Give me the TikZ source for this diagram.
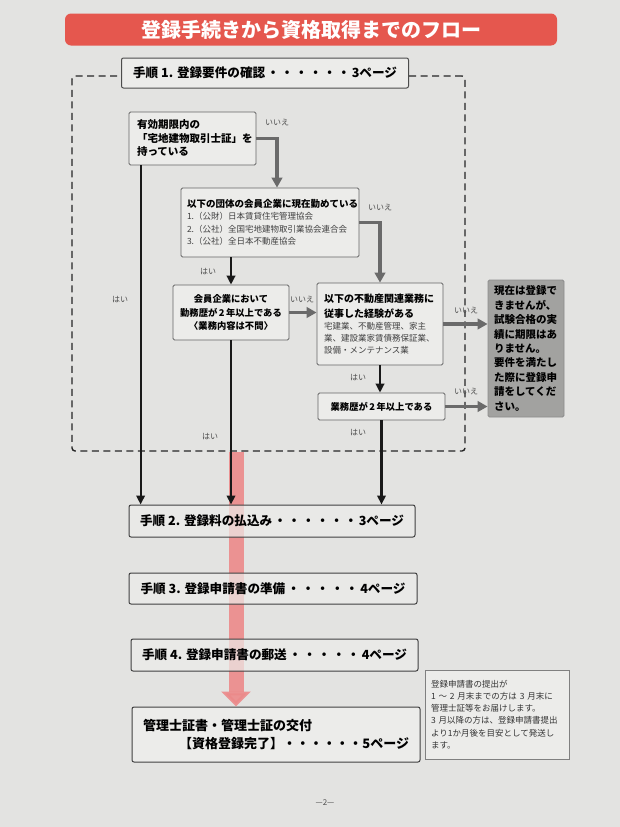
\documentclass[tikz,border=0pt]{standalone}
\usepackage{fontspec}
\setmainfont{Noto Sans CJK JP}
\usetikzlibrary{arrows.meta,calc}
\definecolor{pagebg}{HTML}{E3E3E1}
\definecolor{boxfill}{HTML}{ECECEA}
\definecolor{banner}{HTML}{E5574E}
\definecolor{pinkband}{HTML}{EC8A8A}
\definecolor{grayarrow}{HTML}{6A6A6A}
\definecolor{egray}{HTML}{A2A2A0}
\newcommand{\fs}[2]{\fontsize{#1}{#2}\selectfont}
\newcommand{\steptext}[4]{\makebox[#1pt][l]{#2\hfill #3\hfill #4}}
\newcommand{\sixdots}{・\hfill・\hfill・\hfill・\hfill・\hfill・}
\newcommand{\fivedots}{・\hfill・\hfill・\hfill・\hfill・}
\begin{document}
\begin{tikzpicture}[x=1pt,y=-1pt,
  box/.style={draw=black!60, line width=0.8pt, fill=boxfill, rounded corners=1.5pt, inner ysep=0pt},
  stepbox/.style={draw=black!75, line width=1pt, fill=boxfill, fill opacity=0.7, text opacity=1,
     rounded corners=2pt, inner xsep=0pt, inner ysep=0pt, align=left, font=\fs{12.6}{18}\bfseries},
  dashbox/.style={draw=black!85, line width=1.4pt, dash pattern=on 7pt off 4.5pt, rounded corners=3pt, inner sep=0pt},
  yes/.style={-{Triangle[length=9pt,width=8.5pt]}, line width=2.2pt, black!90},
  no/.style={-{Triangle[length=10pt,width=10.5pt]}, line width=3.4pt, grayarrow},
  pinkarrow/.style={-{Triangle[length=15pt,width=29pt]}, line width=15pt, pinkband, opacity=0.9},
  lbl/.style={font=\fs{8}{8}, text=black!70, inner sep=0pt},
]
\useasboundingbox (0,0) rectangle (620,827);
\fill[pagebg] (0,0) rectangle (620,827);

% title banner
\node[fill=banner, rounded corners=6pt, minimum width=492pt, minimum height=32pt, inner sep=0pt,
      text=white, font=\fs{20}{22}\bfseries] (title) at (311,29.5) {登録手続きから資格取得までのフロー};

% dashed requirement frame
\node[dashbox, minimum width=393pt, minimum height=375pt] (req) at (268.5,263.5) {};

% header of step 1
\node[stepbox, fill opacity=1, draw=black!70, minimum width=287pt, minimum height=30pt] (H) at (265,73)
  {\steptext{264}{手順 1. 登録要件の確認}{\sixdots}{3ページ}};

% decision boxes
\node[box, minimum width=127pt, minimum height=53pt, text width=111pt, inner xsep=8pt, align=left,
      font=\fs{10.5}{13.5}\bfseries] (A) at (192.5,138.5)
  {有効期限内の\\「宅地建物取引士証」を\\持っている};

\node[box, minimum width=178pt, minimum height=69pt, text width=166pt, inner xsep=6pt, align=left] (B) at (270,222.5)
  {{\fs{9.5}{14}\bfseries 以下の団体の会員企業に現在勤めている\par}%
   {\fs{8.5}{12.5}\color{black!75}1.（公財）日本賃貸住宅管理協会\\2.（公社）全国宅地建物取引業協会連合会\\3.（公社）全日本不動産協会\par}};

\node[box, minimum width=116pt, minimum height=55pt, text width=116pt, inner xsep=0pt, align=center,
      font=\fs{9.3}{13.5}\bfseries] (C) at (231,312.5)
  {会員企業において\\勤務歴が\,2\,年以上である\\〈業務内容は不問〉};

\node[box, minimum width=126pt, minimum height=82pt, text width=112pt, inner xsep=7pt, align=left] (D) at (380,324)
  {{\fs{10}{15.5}\bfseries 以下の不動産関連業務に\\従事した経験がある\par}%
   {\fs{8.5}{12}\color{black!75}宅建業、不動産管理、家主\\業、建設業家賃債務保証業、\\設備・メンテナンス業\par}};

\node[box, minimum width=127pt, minimum height=27pt, text width=127pt, inner xsep=0pt, align=center,
      font=\fs{9.3}{12}\bfseries] (F) at (381.5,406.5)
  {業務歴が\,2\,年以上である};

\node[box, fill=egray, draw=black!45, minimum width=76pt, minimum height=137pt, text width=64pt, inner xsep=6pt,
      align=left, font=\fs{10.5}{14.4}\bfseries] (E) at (526,348.5)
  {現在は登録で\\きませんが、\\試験合格の実\\績に期限はあ\\りません。\\要件を満たし\\た際に登録申\\請をしてくだ\\さい。};

% final box
\node[stepbox, fill opacity=1, minimum width=288pt, minimum height=55pt, text width=266pt, inner xsep=11pt,
      font=\fs{13}{18}\bfseries] (fin) at (276,734.5)
  {管理士証書・管理士証の交付\\\hspace*{\fill}\makebox[230pt][l]{【資格登録完了】\hfill\sixdots\hfill 5ページ}};

% pink flow arrow
\coordinate (pinkx) at (236,0);
\draw[pinkarrow] (req.south -| pinkx) -- (fin.north -| pinkx);

% steps 2-4 (over the pink arrow)
\node[stepbox, minimum width=286pt, minimum height=32pt] (S2) at (272,521)
  {\steptext{264}{手順 2. 登録料の払込み}{\sixdots}{3ページ}};
\node[stepbox, minimum width=288pt, minimum height=31pt] (S3) at (273,588.5)
  {\steptext{265}{手順 3. 登録申請書の準備}{\fivedots}{4ページ}};
\node[stepbox, minimum width=287pt, minimum height=32pt] (S4) at (274.5,655)
  {\steptext{265}{手順 4. 登録申請書の郵送}{\fivedots}{4ページ}};

% note box
\node[box, draw=black!50, line width=0.6pt, rounded corners=0pt, minimum width=144pt, minimum height=89pt,
      text width=132pt, inner xsep=6pt, align=left, font=\fs{8.5}{12.2}, text=black!80] (note) at (497,714.5)
  {登録申請書の提出が\\\mbox{1 ～ 2 月末までの方は 3 月末に}\\管理士証等をお届けします。\\\mbox{3 月以降の方は、登録申請書提出}\\\mbox{より1か月後を目安として発送し}\\ます。};

% page number
\node[font=\fs{8}{8}, text=black!70, inner sep=0pt] (pnum) at (325,803) {—2—};

% connectors
\draw[no] (A.east) -| ([xshift=7pt]B.north);
\draw[no] (B.east) -| (D.north);
\draw[yes] (C.north |- B.south) -- (C.north);
\draw[no] (C.east) -- (C.east -| D.west);
\draw[no] (D.east) -- (D.east -| E.west);
\draw[yes] (D.south) -- (D.south |- F.north);
\draw[no] (F.east) -- (F.east -| E.west);
\coordinate (aout) at ([xshift=12pt]A.south west);
\draw[yes] (aout) -- (aout |- S2.north);
\draw[yes] (C.south) -- (C.south |- S2.north);
\draw[yes] (F.south) -- (F.south |- S2.north);

% labels
\node[lbl] (l1) at (277,123) {いいえ};
\node[lbl] (l2) at (380,208) {いいえ};
\node[lbl] (l3) at (208,272) {はい};
\node[lbl] (l4) at (302,300) {いいえ};
\node[lbl] (l5) at (466,311) {いいえ};
\node[lbl] (l6) at (358,378) {はい};
\node[lbl] (l7) at (466,392) {いいえ};
\node[lbl] (l8) at (358,433) {はい};
\node[lbl] (l9) at (210,437) {はい};
\node[lbl] (l10) at (120,300) {はい};
\end{tikzpicture}
\end{document}
